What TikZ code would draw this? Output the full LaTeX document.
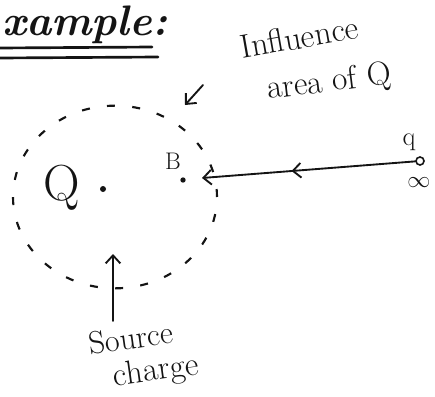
\documentclass[tikz,border=0pt]{standalone}
\usepackage{amsmath,amssymb}
\usetikzlibrary{arrows.meta,positioning,shapes.geometric,decorations.markings}
\definecolor{ink}{HTML}{141414}

\tikzset{
  pen/.style={ink,line width=1.4pt,line cap=round},
  hand/.style={ink,inner sep=1pt},
  barb/.style={-{Straight Barb[length=6pt,width=11pt,line width=1.4pt]}},
  dotpt/.style={circle,fill=ink,inner sep=0pt,minimum size=4.5pt},
}

\begin{document}
\begin{tikzpicture}[x=0.75pt,y=-0.75pt]
  \useasboundingbox (0,0) rectangle (435,396);

  % Heading
  \node[hand,font=\fontsize{32}{32}\selectfont\bfseries\itshape,anchor=base west,inner sep=0pt] (title) at (2,36) {xample:};
  \draw[pen,line width=2pt] (0,48) -- (152,47);
  \draw[pen,line width=2pt] (0,58) -- (158,57);

  % Influence area (dashed)
  \node[ellipse,draw=ink,line width=1.6pt,dash pattern=on 6pt off 13pt,
        minimum width=153pt,minimum height=137pt] (area) at (115,197) {};

  % Source charge Q
  \node[dotpt] (Qdot) at (103,189) {};
  \node[hand,font=\fontsize{38}{38}\selectfont] (Qlab) at (62,188) {Q};

  % Point B
  \node[dotpt,minimum size=4pt] (Bdot) at (183,180) {};
  \node[hand,font=\fontsize{18}{18}\selectfont] (Blab) at (173,161) {B};

  % Test charge q at infinity
  \node[circle,draw=ink,line width=1.2pt,inner sep=0pt,minimum size=6pt] (q) at (420,161) {};
  \node[hand,font=\fontsize{20}{20}\selectfont] (qlab) at (409,142) {q};
  \node[hand,font=\fontsize{16}{16}\selectfont] (inf) at (419,183) {$\infty$};
  \coordinate (entry) at (202,178);
  \draw[pen,barb,decoration={markings,mark=at position 0.58 with {\arrow{Straight Barb[length=6pt,width=11pt,line width=1.4pt]}}},
        postaction={decorate}] (q) -- (entry);

  % Labels
  \node[hand,font=\fontsize{25}{25}\selectfont,rotate=10,inner sep=0pt] (infl) at (299,37) {Influence};
  \node[hand,font=\fontsize{25}{25}\selectfont,rotate=7,inner sep=0pt] (areaof) at (329,83) {area of Q};
  \coordinate (ptail) at (203,85);
  \coordinate (ptip) at (185,105);
  \draw[pen,barb] (ptail) -- (ptip);

  \node[hand,font=\fontsize{24}{24}\selectfont,rotate=8,inner sep=0pt] (src) at (131,338) {Source};
  \node[hand,font=\fontsize{25}{25}\selectfont,rotate=8,inner sep=0pt] (chg) at (156,372) {charge};
  \coordinate (stail) at (113,321);
  \coordinate (stip) at (113,254);
  \draw[pen,barb] (stail) -- (stip);
\end{tikzpicture}
\end{document}
